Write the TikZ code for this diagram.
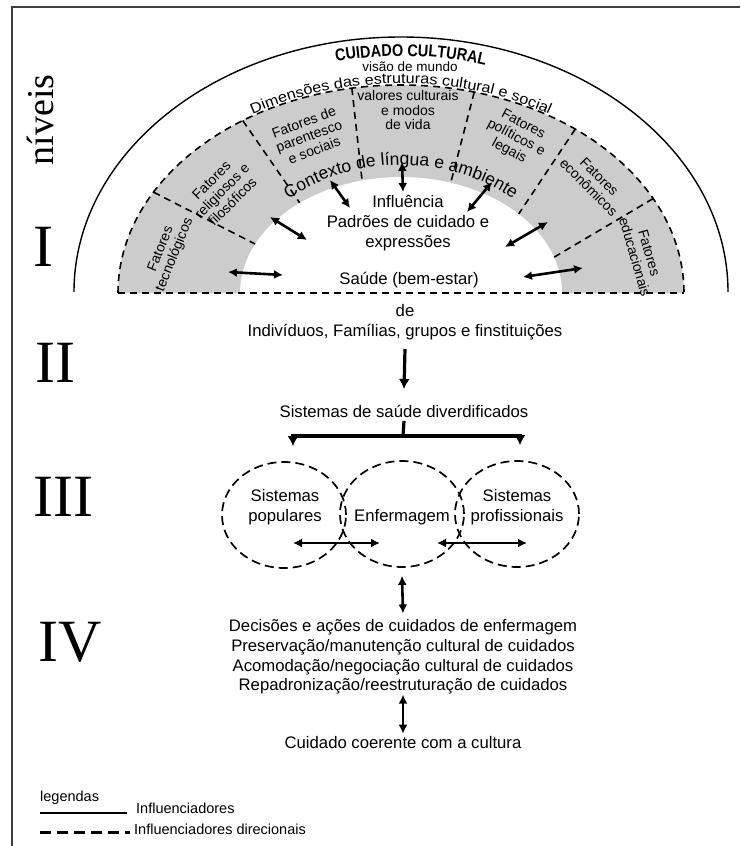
\documentclass[tikz,border=0pt]{standalone}
\usepackage{fontspec}
\setmainfont{Liberation Sans}
\newfontfamily\romanfont{Liberation Serif}
\newfontfamily\narrowsf[FakeStretch=0.85]{Liberation Sans}
\newfontfamily\widesf[FakeStretch=1.12]{Liberation Sans}
\usetikzlibrary{arrows.meta,positioning,calc,shapes.geometric,decorations.text}

\begin{document}
\begin{tikzpicture}[x=1pt,y=1pt,
  txt/.style={font=\fontsize{16.7}{19.7}\selectfont,inner sep=0pt,align=center},
  sect/.style={font=\fontsize{14}{15}\selectfont,inner sep=0pt,align=center},
  numeral/.style={font=\romanfont\fontsize{60}{60}\selectfont,inner sep=0pt,anchor=west},
  legtxt/.style={font=\fontsize{14.5}{16}\selectfont,inner sep=0pt,anchor=west},
  arr/.style={line width=3.2pt,-{Latex[length=10pt,width=11pt]}},
  dbl/.style={line width=2.6pt,{Latex[length=9pt,width=9pt]}-{Latex[length=9pt,width=9pt]}},
  dashline/.style={line width=1.6pt,dash pattern=on 7pt off 5pt},
  sysring/.style={ellipse,draw,line width=1.7pt,dash pattern=on 9pt off 5pt,minimum width=124pt,minimum height=106pt,inner sep=0pt}]
\useasboundingbox (0,0) rectangle (740,-846);
% frame
\draw[line width=1.2pt,black!75] (12,-846) -- (12,-7) -- (740,-7);
\coordinate (ctr) at (401,-293);
% band of the sun
\fill[black!20] (118,-293) arc[start angle=180,end angle=0,x radius=283,y radius=208]
  -- (562,-293) arc[start angle=0,end angle=180,x radius=161,y radius=116] -- cycle;
\draw[line width=1.4pt] (74,-292) arc[start angle=180,end angle=0,x radius=327,y radius=255];
\draw[dashline] (118,-293) arc[start angle=180,end angle=0,x radius=283,y radius=208];
\draw[dashline] (118,-293) -- (684,-293);
\draw[dashline] ($(ctr)+(151:283 and 208)$) -- ($(ctr)+(155:161 and 116)$);
\draw[dashline] ($(ctr)+(124:283 and 208)$) -- ($(ctr)+(129:161 and 116)$);
\draw[dashline] ($(ctr)+(100:283 and 208)$) -- ($(ctr)+(104:161 and 116)$);
\draw[dashline] ($(ctr)+(75:283 and 208)$) -- ($(ctr)+(72:161 and 116)$);
\draw[dashline] ($(ctr)+(52:283 and 208)$) -- ($(ctr)+(43:161 and 116)$);
\draw[dashline] ($(ctr)+(27:283 and 208)$) -- ($(ctr)+(18:161 and 116)$);
% curved titles
\path[decorate,decoration={text along path,text align=center,
  text={|\narrowsf\bfseries\fontsize{17}{17}\selectfont|CUIDADO CULTURAL}}]
  ($(ctr)+(123:300 and 237)$) arc[start angle=123,end angle=53,x radius=300,y radius=237];
\node[font=\fontsize{13.5}{14}\selectfont,inner sep=0pt] (visao) at (410,-67) {visão de mundo};
\path[decorate,decoration={text along path,text align=center,
  text={|\widesf\fontsize{14.5}{14.5}\selectfont|Dimensões das estruturas cultural e social}}]
  ($(ctr)+(150:284.5 and 209.5)$) arc[start angle=150,end angle=30,x radius=284.5,y radius=209.5];
\path[decorate,decoration={text along path,text align=center,
  text={|\fontsize{17.5}{17.5}\selectfont|Contexto de língua e ambiente}}]
  ($(ctr)+(150:165 and 128)$) arc[start angle=150,end angle=30,x radius=165,y radius=128];
% sectors
\node[sect,rotate=68] (tecno) at (168,-252) {Fatores\\tecnológicos};
\node[sect,rotate=45] (relig) at (222,-191) {Fatores\\religiosos e\\filosóficos};
\node[sect,rotate=20] (paren) at (309,-136) {Fatores de\\parentesco\\e sociais};
\node[sect,font=\fontsize{14}{14.5}\selectfont] (valor) at (408,-110) {valores culturais\\e modos\\de vida};
\node[sect,rotate=-28] (polit) at (516,-138) {Fatores\\políticos e\\legais};
\node[sect,rotate=-45] (econ) at (594,-182) {Fatores\\econômicos};
\node[sect,rotate=-74] (educ) at (642,-255) {Fatores\\educacionais};
% inside
\node[txt] (padroes) at (408,-223) {Influência\\Padrões de cuidado e\\expressões};
\node[txt] (saude) at (409,-280) {Saúde (bem-estar)};
\coordinate (w1) at (228,-272); \coordinate (v1) at (283,-275);
\coordinate (w2) at (270,-217); \coordinate (v2) at (307,-240);
\coordinate (w3) at (330,-180); \coordinate (v3) at (350,-208);
\coordinate (w4) at (402,-162); \coordinate (v4) at (403,-192);
\coordinate (w5) at (492,-182); \coordinate (v5) at (467,-212);
\coordinate (w6) at (548,-222); \coordinate (v6) at (505,-247);
\coordinate (w7) at (583,-268); \coordinate (v7) at (523,-277);
\draw[dbl] (w1) -- (v1);
\draw[dbl] (w2) -- (v2);
\draw[dbl] (w3) -- (v3);
\draw[dbl] (w4) -- (v4);
\draw[dbl] (w5) -- (v5);
\draw[dbl] (w6) -- (v6);
\draw[dbl] (w7) -- (v7);
% levels
\node[font=\romanfont\fontsize{38}{38}\selectfont,rotate=90,inner sep=0pt] (niveis) at (40,-120) {níveis};
\node[numeral] (lvI) at (33,-247) {I};
\node[numeral] (lvII) at (35,-363) {II};
\node[numeral] (lvIII) at (33,-497) {III};
\node[numeral] (lvIV) at (38,-642) {IV};
% lower flow
\node[txt] (de) at (405,-311) {de};
\node[txt] (indiv) at (405,-332) {Indivíduos, Famílias, grupos e finstituições};
\node[txt] (sisDiv) at (404,-411) {Sistemas de saúde diverdificados};
\draw[arr] ([yshift=-17]indiv.center) -- ([yshift=22]sisDiv.center);
\node[sysring] (popul) at (284,-515) {};
\node[sysring] (enferm) at (402,-514) {};
\node[sysring] (profis) at (517,-514) {};
\node[txt,font=\fontsize{16.7}{20}\selectfont] (popTxt) at (285,-507) {Sistemas\\populares};
\node[txt] (enfTxt) at (402,-517) {Enfermagem};
\node[txt,font=\fontsize{16.7}{20}\selectfont] (proTxt) at (517,-507) {Sistemas\\profissionais};
\coordinate (fork) at (403,-436);
\draw[line width=3.2pt] ([yshift=-10]sisDiv.center) -- (fork);
\draw[arr] (fork) -| ([xshift=9,yshift=15]popul.north);
\draw[arr] (fork) -| ([xshift=3,yshift=15]profis.north);
\draw[dbl] ([xshift=9,yshift=-28]popul.center) -- ([xshift=-22,yshift=-29]enferm.center);
\draw[dbl] ([xshift=35,yshift=-29]enferm.center) -- ([xshift=10,yshift=-29]profis.center);
\node[txt] (decis) at (403,-657) {Decisões e ações de cuidados de enfermagem\\Preservação/manutenção cultural de cuidados\\Acomodação/negociação cultural de cuidados\\Repadronização/reestruturação de cuidados};
\node[txt] (coerente) at (403,-743) {Cuidado coerente com a cultura};
\draw[dbl] ([yshift=-8]enferm.south) -- ([yshift=6]decis.north);
\draw[dbl] (decis.south) -- ([yshift=3]coerente.north);
% legend
\node[legtxt] (legenda) at (40,-798) {legendas};
\node[legtxt] (infl) at (136,-808) {Influenciadores};
\node[legtxt] (inflDir) at (134,-829) {Influenciadores direcionais};
\coordinate (lg1) at (40,-813);
\coordinate (lg2) at (40,-832);
\draw[line width=2.6pt,shorten >=9pt] (lg1) -- (lg1 -| infl.west);
\draw[line width=3pt,dash pattern=on 11pt off 6pt,shorten >=4pt] (lg2) -- (lg2 -| inflDir.west);
\end{tikzpicture}
\end{document}
